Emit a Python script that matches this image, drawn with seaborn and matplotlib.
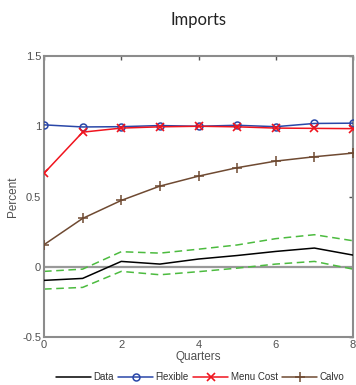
import numpy as np
import pandas as pd
import matplotlib
matplotlib.use("Agg")
import matplotlib.pyplot as plt
import seaborn as sns

quarters = [0, 1, 2, 3, 4, 5, 6, 7, 8]
data = [-0.097, -0.083, 0.038, 0.019, 0.055, 0.080, 0.109, 0.133, 0.083]
data_upper = [-0.033, -0.017, 0.107, 0.097, 0.125, 0.155, 0.200, 0.228, 0.185]
data_lower = [-0.159, -0.147, -0.033, -0.057, -0.035, -0.010, 0.019, 0.038, -0.017]
flexible = [1.010, 0.995, 0.997, 1.005, 1.000, 1.007, 0.997, 1.020, 1.022]
menu_cost = [0.665, 0.958, 0.987, 0.996, 1.000, 0.996, 0.987, 0.985, 0.983]
calvo = [0.157, 0.344, 0.472, 0.574, 0.645, 0.705, 0.752, 0.783, 0.809]
xticks = [0, 2, 4, 6, 8]
yticks = [-0.5, 0, 0.5, 1, 1.5]

sns.set_style("white")
plt.rcParams['font.family'] = ['Liberation Sans', 'DejaVu Sans']

fig = plt.figure(figsize=(3.56, 3.85), dpi=100)
ax = fig.add_axes([0.1236, 0.1247, 0.868, 0.7298])

gray = "#8c8c8c"
ax.axhline(0, color="#999999", lw=1.6, zorder=1)

df = pd.DataFrame({"q": quarters, "data": data, "up": data_upper, "lo": data_lower,
                   "flex": flexible, "menu": menu_cost, "calvo": calvo})

green = "#4cbb3f"
sns.lineplot(data=df, x="q", y="up", ax=ax, color=green, lw=1.1, zorder=2)
sns.lineplot(data=df, x="q", y="lo", ax=ax, color=green, lw=1.1, zorder=2)
for l in ax.lines[-2:]:
    l.set_dashes([5, 3])
sns.lineplot(data=df, x="q", y="data", ax=ax, color="black", lw=1.1, label="Data", zorder=3)
sns.lineplot(data=df, x="q", y="flex", ax=ax, color="#2a47a8", lw=1.1, marker="o",
             markersize=5, markerfacecolor="none", markeredgecolor="#2a47a8",
             markeredgewidth=1.1, label="Flexible", zorder=4)
sns.lineplot(data=df, x="q", y="menu", ax=ax, color="#f0141e", lw=1.1, marker="x",
             markersize=5.5, markeredgewidth=1.2, markeredgecolor="#f0141e",
             label="Menu Cost", zorder=4)
sns.lineplot(data=df, x="q", y="calvo", ax=ax, color="#6f4a32", lw=1.1, marker="+",
             markersize=7.5, markeredgewidth=1.1, markeredgecolor="#6f4a32",
             label="Calvo", zorder=4)

ax.set_xlim(0, 8)
ax.set_ylim(-0.5, 1.5)
ax.set_xticks(xticks)
ax.set_xticklabels([str(t) for t in xticks])
ax.set_yticks(yticks)
ax.set_yticklabels(["-0.5", "0", "0.5", "1", "1.5"])
ax.tick_params(direction="in", length=3, width=1, color="#555555", labelsize=8,
               labelcolor="#505050", top=True, right=True, pad=2)
for s in ax.spines.values():
    s.set_color(gray)
    s.set_linewidth(1.5)
    s.set_visible(True)

ax.set_xlabel("Quarters", fontsize=8.5, color="#505050", labelpad=1)
ax.set_ylabel("Percent", fontsize=8.5, color="#505050", labelpad=2)
ax.set_title("Imports", fontsize=12, color="#222222", pad=22,
             fontfamily=["Lato", "DejaVu Sans"])

handles, labels = ax.get_legend_handles_labels()
ax.legend(handles, labels, loc="upper center", bbox_to_anchor=(0.505, -0.112),
          ncol=4, frameon=False, fontsize=7, handlelength=3.6, handletextpad=0.25,
          columnspacing=0.45, borderaxespad=0, labelcolor="#303030")

fig.savefig("out.png", dpi=100)
